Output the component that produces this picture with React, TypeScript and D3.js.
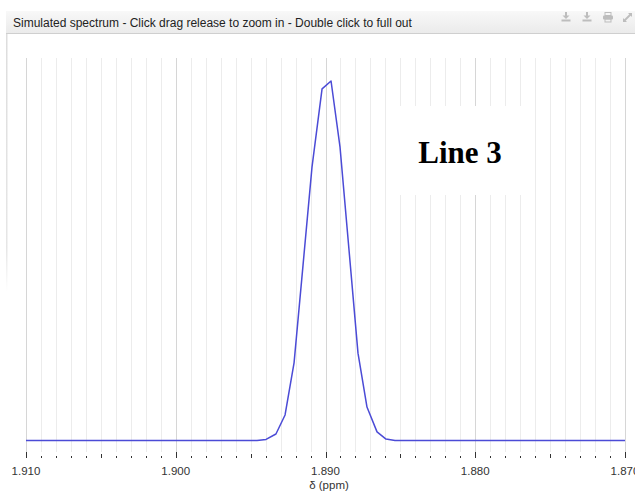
import React, { useEffect } from "react";
import * as d3 from "d3";

const ppmValues = [1.91, 1.89457, 1.89397, 1.89331, 1.8927, 1.8921, 1.8915, 1.8909, 1.89023, 1.88963, 1.88903, 1.88843, 1.88783, 1.88723, 1.88656, 1.88596, 1.88536, 1.87];
const intensities = [0, 0, 0.003, 0.018, 0.071, 0.216, 0.488, 0.761, 0.978, 1.0, 0.816, 0.53, 0.243, 0.093, 0.024, 0.004, 0, 0];
const tickLabels = ["1.910", "1.900", "1.890", "1.880", "1.870"];
const titleText = "Simulated spectrum - Click drag release to zoom in - Double click to full out";
const axisTitle = "δ (ppm)";
const annotation = "Line 3";

const W = 635;
const H = 492;

export default function App() {
  useEffect(() => {
    document.body.style.margin = "0";
  }, []);

  const x = d3.scaleLinear().domain([1.91, 1.87]).range([26, 625]);
  const y = d3.scaleLinear().domain([0, 1]).range([440.5, 81]);

  const pts = ppmValues.map((p, i) => [p, intensities[i]] as [number, number]);
  const line = d3
    .line<[number, number]>()
    .x((d) => x(d[0]))
    .y((d) => y(d[1]));

  const minor = d3.range(0, 41).map((i) => +(1.91 - i * 0.001).toFixed(3));
  const gridTop = 58;
  const axisY = 458;

  return (
    <svg width={W} height={H} style={{ position: "absolute", left: 0, top: 0, display: "block" }}>
      <defs>
        <linearGradient id="bar" x1="0" y1="0" x2="0" y2="1">
          <stop offset="0" stopColor="#f8f8f8" />
          <stop offset="1" stopColor="#ebebeb" />
        </linearGradient>
        <linearGradient id="edge" x1="0" y1="0" x2="0" y2="1">
          <stop offset="0" stopColor="#dcdcdc" />
          <stop offset="0.85" stopColor="#e6e6e6" />
          <stop offset="1" stopColor="#ffffff" />
        </linearGradient>
      </defs>
      <rect x={0} y={0} width={W} height={H} fill="#ffffff" />
      <rect x={6} y={11} width={1.5} height={280} fill="url(#edge)" />
      <rect x={6} y={11} width={W - 6} height={22} fill="url(#bar)" />
      <line x1={6} x2={W} y1={33.5} y2={33.5} stroke="#cfcfcf" />
      <text x={13} y={27} fontFamily="Arial, 'Liberation Sans', sans-serif" fontSize={12} fill="#222">
        {titleText}
      </text>
      <g fill="#bdbdbd" stroke="none">
        {[566, 587].map((cx) => (
          <g key={cx}>
            <rect x={cx - 1} y={12} width={2} height={4} />
            <path d={`M${cx - 3.5},15.5 L${cx + 3.5},15.5 L${cx},19 Z`} />
            <rect x={cx - 4.5} y={19.5} width={9} height={2} />
          </g>
        ))}
        <g>
          <rect x={605} y={12.5} width={6} height={3} fill="none" stroke="#bdbdbd" strokeWidth={1} />
          <rect x={603} y={15.5} width={10} height={4} rx={1} />
          <rect x={605} y={19} width={6} height={3} fill="none" stroke="#bdbdbd" strokeWidth={1} />
        </g>
        <path d="M624,21 L631,14" stroke="#bdbdbd" strokeWidth={1.8} />
        <path d="M628,13 L632,13 L632,17 Z" />
        <path d="M623,18 L623,22 L627,22 Z" />
      </g>
      <g>
        {minor.map((v, i) => (
          <line
            key={i}
            x1={Math.round(x(v)) + 0.5}
            x2={Math.round(x(v)) + 0.5}
            y1={gridTop}
            y2={axisY - 6}
            stroke={i % 10 === 0 ? "#d6d6d6" : "#ececec"}
            strokeWidth={1}
          />
        ))}
      </g>
      <rect x={395} y={106} width={140} height={89} fill="#ffffff" />
      <text
        x={460}
        y={163}
        textAnchor="middle"
        fontFamily="'Liberation Serif', 'Times New Roman', serif"
        fontWeight="bold"
        fontSize={31}
        fill="#000"
      >
        {annotation}
      </text>
      <path d={line(pts) || ""} fill="none" stroke="#4b4bd6" strokeWidth={1.5} strokeLinejoin="round" />
      <g stroke="#333">
        {minor.map((v, i) => {
          const len = i % 10 === 0 ? 6 : i % 5 === 0 ? 4 : 2;
          const xx = Math.round(x(v)) + 0.5;
          return <line key={i} x1={xx} x2={xx} y1={axisY} y2={axisY - len} strokeWidth={1} />;
        })}
      </g>
      {tickLabels.map((t) => (
        <text
          key={t}
          x={x(+t)}
          y={475}
          textAnchor="middle"
          fontFamily="Arial, 'Liberation Sans', sans-serif"
          fontSize={11.5}
          fill="#333"
        >
          {t}
        </text>
      ))}
      <text x={329} y={489} textAnchor="middle" fontFamily="Arial, 'Liberation Sans', sans-serif" fontSize={11.5} fill="#333">
        {axisTitle}
      </text>
    </svg>
  );
}
